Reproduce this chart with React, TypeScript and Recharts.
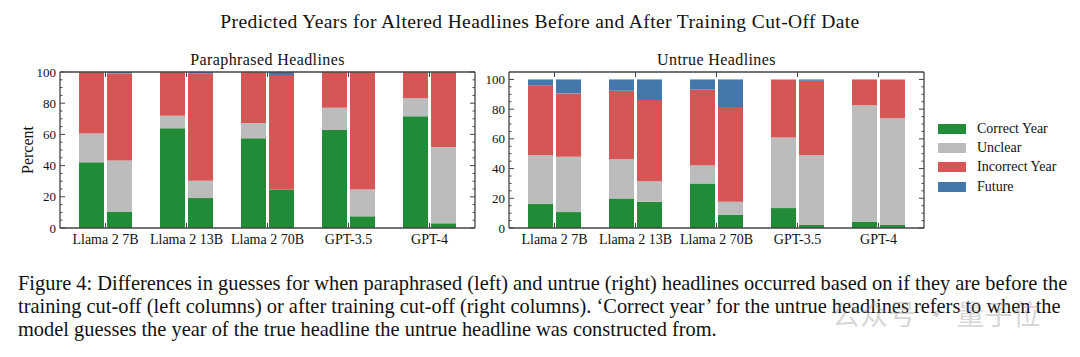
import { Bar, BarChart, XAxis, YAxis } from "recharts"

const models = ["Llama 2 7B", "Llama 2 13B", "Llama 2 70B", "GPT-3.5", "GPT-4"]

// paraphrased headlines, before / after training cut-off
const paraBeforeCorrect = [42.1, 63.9, 57.5, 62.8, 71.6]
const paraBeforeUnclear = [18.4, 8.1, 9.8, 14.3, 11.7]
const paraBeforeIncorrect = [39.5, 28.0, 32.7, 22.9, 16.7]
const paraBeforeFuture = [0, 0, 0, 0, 0]
const paraAfterCorrect = [10.3, 19.2, 24.6, 7.5, 3.0]
const paraAfterUnclear = [32.9, 11.1, 0, 17.1, 48.9]
const paraAfterIncorrect = [55.9, 68.7, 73.4, 75.4, 48.1]
const paraAfterFuture = [0.9, 1.0, 2.0, 0, 0]

// untrue headlines
const untrueBeforeCorrect = [16.1, 19.9, 30.0, 13.4, 4.3]
const untrueBeforeUnclear = [32.9, 26.4, 12.3, 47.5, 78.3]
const untrueBeforeIncorrect = [47.0, 46.1, 50.8, 39.1, 17.4]
const untrueBeforeFuture = [4.0, 7.6, 6.9, 0, 0]
const untrueAfterCorrect = [10.7, 17.7, 8.9, 2.0, 2.0]
const untrueAfterUnclear = [37.2, 13.8, 8.8, 47.0, 71.8]
const untrueAfterIncorrect = [42.7, 54.6, 63.7, 50.1, 26.2]
const untrueAfterFuture = [9.4, 13.9, 18.6, 0.9, 0]

const yTicks = [0, 5, 10, 15, 20, 25, 30, 35, 40, 45, 50, 55, 60, 65, 70, 75, 80, 85, 90, 95, 100]

const legendItems = [
  { name: "Correct Year", color: "#228b38" },
  { name: "Unclear", color: "#bcbcbc" },
  { name: "Incorrect Year", color: "#d65656" },
  { name: "Future", color: "#4478ad" },
]

const FONT = "'Liberation Serif', 'Times New Roman', serif"
const FRAME = "#444"

function buildRows(bc: number[], bu: number[], bi: number[], bf: number[], ac: number[], au: number[], ai: number[], af: number[]) {
  return models.map((m, i) => ({
    model: m,
    bCorrect: bc[i], bUnclear: bu[i], bIncorrect: bi[i], bFuture: bf[i],
    aCorrect: ac[i], aUnclear: au[i], aIncorrect: ai[i], aFuture: af[i],
  }))
}

const paraRows = buildRows(paraBeforeCorrect, paraBeforeUnclear, paraBeforeIncorrect, paraBeforeFuture,
  paraAfterCorrect, paraAfterUnclear, paraAfterIncorrect, paraAfterFuture)
const untrueRows = buildRows(untrueBeforeCorrect, untrueBeforeUnclear, untrueBeforeIncorrect, untrueBeforeFuture,
  untrueAfterCorrect, untrueAfterUnclear, untrueAfterIncorrect, untrueAfterFuture)

const LeftTick = (props: any) => {
  const { x, y, payload } = props
  const major = payload.value % 20 === 0
  return (
    <g>
      <line x1={x} x2={x + (major ? 5 : 2.5)} y1={y} y2={y} stroke={FRAME} strokeWidth={1} />
      {major && (
        <text x={x - 4} y={y} dy={4.5} textAnchor="end" fontFamily={FONT} fontSize={13} fill="#111">
          {payload.value}
        </text>
      )}
    </g>
  )
}

const RightTick = (props: any) => {
  const { x, y, payload } = props
  const major = payload.value % 20 === 0
  return <line x1={x} x2={x - (major ? 5 : 2.5)} y1={y} y2={y} stroke={FRAME} strokeWidth={1} />
}

const BottomTick = (props: any) => {
  const { x, y, payload } = props
  return (
    <g>
      <line x1={x} x2={x} y1={y} y2={y - 5} stroke={FRAME} strokeWidth={1} />
      <text x={x} y={y + 16} textAnchor="middle" fontFamily={FONT} fontSize={14} fill="#111">
        {payload.value}
      </text>
    </g>
  )
}

const TopTick = (props: any) => {
  const { x, y } = props
  return <line x1={x} x2={x} y1={y} y2={y + 5} stroke={FRAME} strokeWidth={1} />
}

function Panel({ rows, width, margin, yMax }: { rows: any[]; width: number; margin: any; yMax: number }) {
  const axisLine = { stroke: FRAME, strokeWidth: 1.3 }
  return (
    <BarChart width={width} height={250} data={rows} margin={margin} barSize={25} barGap={3}>
      <XAxis dataKey="model" height={1} tickSize={0} tickMargin={0} tickLine={false} axisLine={axisLine}
        padding={{ left: 5, right: 5 }} interval={0} tick={<BottomTick />} />
      <XAxis dataKey="model" xAxisId="top" orientation="top" height={1} tickSize={0} tickMargin={0}
        tickLine={false} axisLine={axisLine} padding={{ left: 5, right: 5 }} interval={0} tick={<TopTick />} />
      <YAxis type="number" domain={[0, yMax]} ticks={yTicks} width={1} tickSize={0} tickMargin={0}
        tickLine={false} axisLine={axisLine} interval={0} allowDataOverflow tick={<LeftTick />} />
      <YAxis yAxisId="right" orientation="right" type="number" domain={[0, yMax]} ticks={yTicks} width={1}
        tickSize={0} tickMargin={0} tickLine={false} axisLine={axisLine} interval={0} allowDataOverflow
        tick={<RightTick />} />
      <Bar dataKey="bCorrect" stackId="before" fill={legendItems[0].color} isAnimationActive={false} />
      <Bar dataKey="bUnclear" stackId="before" fill={legendItems[1].color} isAnimationActive={false} />
      <Bar dataKey="bIncorrect" stackId="before" fill={legendItems[2].color} isAnimationActive={false} />
      <Bar dataKey="bFuture" stackId="before" fill={legendItems[3].color} isAnimationActive={false} />
      <Bar dataKey="aCorrect" stackId="after" fill={legendItems[0].color} isAnimationActive={false} />
      <Bar dataKey="aUnclear" stackId="after" fill={legendItems[1].color} isAnimationActive={false} />
      <Bar dataKey="aIncorrect" stackId="after" fill={legendItems[2].color} isAnimationActive={false} />
      <Bar dataKey="aFuture" stackId="after" fill={legendItems[3].color} isAnimationActive={false} />
    </BarChart>
  )
}

export default function App() {
  return (
    <div style={{ position: "absolute", left: 0, top: 0, width: 1080, height: 357, background: "#fff", fontFamily: FONT, color: "#111", overflow: "hidden" }}>
      <div style={{ position: "absolute", top: 11, left: 0, width: 1080, textAlign: "center", fontSize: 19.5, letterSpacing: 0.4 }}>
        Predicted Years for Altered Headlines Before and After Training Cut-Off Date
      </div>

      <div style={{ position: "absolute", top: 51, left: 60, width: 415, textAlign: "center", fontSize: 16, letterSpacing: 0.4 }}>
        Paraphrased Headlines
      </div>
      <div style={{ position: "absolute", top: 51, left: 509, width: 415, textAlign: "center", fontSize: 16, letterSpacing: 0.4 }}>
        Untrue Headlines
      </div>

      <div style={{ position: "absolute", left: 28, top: 150, transform: "translate(-50%, -50%) rotate(-90deg)", fontSize: 16, whiteSpace: "nowrap" }}>
        Percent
      </div>

      <div style={{ position: "absolute", left: 0, top: 0 }}>
        <Panel rows={paraRows} width={480} margin={{ top: 71, right: 4, bottom: 21, left: 59 }} yMax={100} />
      </div>
      <div style={{ position: "absolute", left: 480, top: 0 }}>
        <Panel rows={untrueRows} width={450} margin={{ top: 71, right: 5, bottom: 21, left: 28 }} yMax={105} />
      </div>

      <div style={{ position: "absolute", left: 938, top: 119 }}>
        {legendItems.map((it) => (
          <div key={it.name} style={{ display: "flex", alignItems: "center", height: 19.3, fontSize: 14 }}>
            <div style={{ width: 28, height: 10, background: it.color, marginRight: 11 }} />
            <span>{it.name}</span>
          </div>
        ))}
      </div>

      <div style={{ position: "absolute", left: 18, top: 272, fontSize: 20.4, lineHeight: "23px", whiteSpace: "nowrap", fontFamily: "'Liberation Serif', serif" }}>
        <div>Figure 4: Differences in guesses for when paraphrased (left) and untrue (right) headlines occurred based on if they are before the</div>
        <div>training cut-off (left columns) or after training cut-off (right columns). ‘Correct year’ for the untrue headlines refers to when the</div>
        <div>model guesses the year of the true headline the untrue headline was constructed from.</div>
      </div>

      <div style={{ position: "absolute", left: 832, top: 297, fontSize: 28, lineHeight: "32px", color: "rgba(150,150,150,0.4)", fontFamily: "'Noto Sans CJK SC', sans-serif", whiteSpace: "nowrap" }}>
        公众号 · 量子位
      </div>
    </div>
  )
}
